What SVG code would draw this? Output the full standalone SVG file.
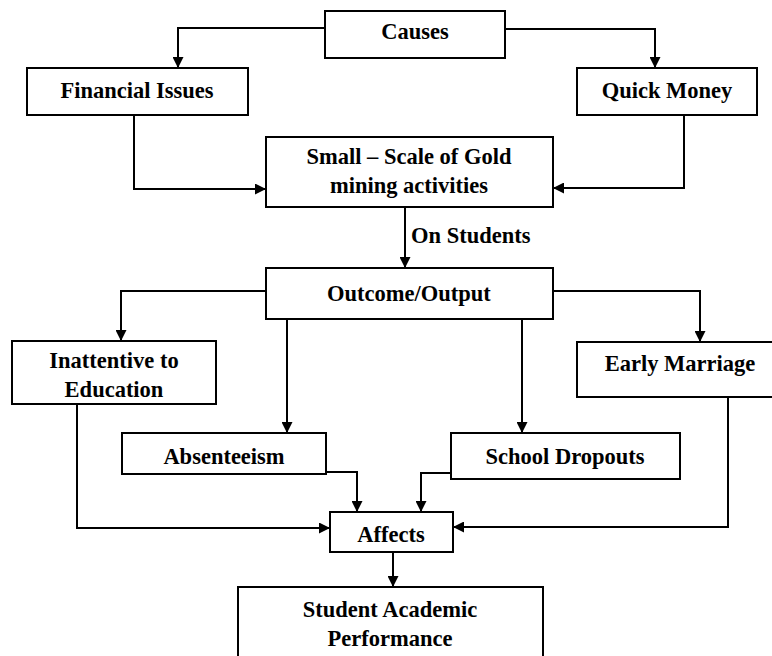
<svg xmlns="http://www.w3.org/2000/svg" width="772" height="656" viewBox="0 0 772 656">
<style>
.box{fill:#fff;stroke:#000;stroke-width:2}
.t{font-family:"Liberation Serif","Times New Roman",serif;font-weight:bold;font-size:22.5px;fill:#000;text-anchor:middle}
.c{fill:none;stroke:#000;stroke-width:2;marker-end:url(#ah)}
</style>
<defs>
<marker id="ah" viewBox="0 0 10 10" refX="10" refY="5" markerWidth="5.5" markerHeight="5.5" orient="auto" markerUnits="strokeWidth">
<path d="M0,0 L10,5 L0,10 Z" fill="#000"/>
</marker>
</defs>
<rect width="772" height="656" fill="#fff"/>
<g id="connectors">
<path class="c" d="M325,28 H178 V68"/>
<path class="c" d="M505,29 H655 V68"/>
<path class="c" d="M134,115 V189 H266"/>
<path class="c" d="M684,115 V188 H553"/>
<path class="c" d="M405,207 V268"/>
<path class="c" d="M266,291 H121 V341"/>
<path class="c" d="M553,291 H700 V342"/>
<path class="c" d="M287,319 V433"/>
<path class="c" d="M522,319 V433"/>
<path class="c" d="M77,404 V528 H330"/>
<path class="c" d="M326,472 H357 V512"/>
<path class="c" d="M451,473 H421 V512"/>
<path class="c" d="M728,397 V527 H453"/>
<path class="c" d="M393,552 V587"/>
<text class="t" x="411" y="243" style="text-anchor:start">On Students</text>
</g>
<g id="causes"><rect class="box" x="325" y="11" width="180" height="47"/><text class="t" x="415" y="39">Causes</text></g>
<g id="financial"><rect class="box" x="27" y="68" width="221" height="47"/><text class="t" x="137" y="98">Financial Issues</text></g>
<g id="quick"><rect class="box" x="577" y="68" width="180" height="47"/><text class="t" x="667" y="98">Quick Money</text></g>
<g id="small"><rect class="box" x="266" y="137" width="287" height="70"/><text class="t" x="409" y="164">Small – Scale of Gold</text><text class="t" x="409" y="193">mining activities</text></g>
<g id="outcome"><rect class="box" x="266" y="268" width="287" height="51"/><text class="t" x="409" y="301">Outcome/Output</text></g>
<g id="inattentive"><rect class="box" x="12" y="341" width="204" height="63"/><text class="t" x="114" y="368">Inattentive to</text><text class="t" x="114" y="397">Education</text></g>
<g id="early"><rect class="box" x="577" y="342" width="206" height="55"/><text class="t" x="680" y="371">Early Marriage</text></g>
<g id="absenteeism"><rect class="box" x="122" y="433" width="204" height="41"/><text class="t" x="224" y="464">Absenteeism</text></g>
<g id="dropouts"><rect class="box" x="451" y="433" width="229" height="46"/><text class="t" x="565" y="464">School Dropouts</text></g>
<g id="affects"><rect class="box" x="330" y="512" width="123" height="40"/><text class="t" x="391" y="542">Affects</text></g>
<g id="student"><rect class="box" x="238" y="587" width="305" height="80"/><text class="t" x="390" y="617">Student Academic</text><text class="t" x="390" y="646">Performance</text></g>
</svg>
